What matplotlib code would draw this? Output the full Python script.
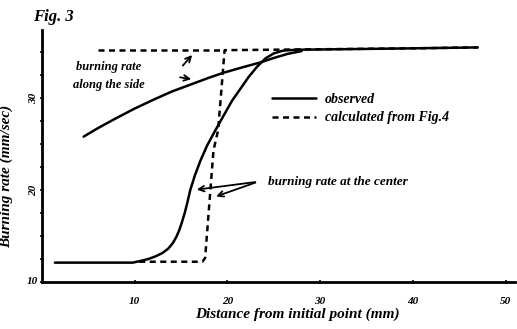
import matplotlib.pyplot as plt

# --- DATA ---
obs_center_x = [1.4, 9.8, 10.7, 11.5, 12.3, 13.0, 13.6, 14.1, 14.5, 14.8, 15.1, 15.4, 15.7, 16.0, 16.5,
                17.1, 17.8, 18.6, 19.6, 20.5, 21.4, 22.3, 23.2, 24.1, 25.0, 26.0, 27.5, 32, 40, 47]
obs_center_y = [12.1, 12.1, 12.3, 12.5, 12.8, 13.15, 13.6, 14.2, 14.9, 15.6, 16.5, 17.5, 18.7, 20.0, 21.6,
                23.2, 24.8, 26.3, 28.1, 29.7, 31.0, 32.3, 33.4, 34.3, 34.85, 35.15, 35.25, 35.3, 35.4, 35.5]

obs_side_x = [4.5, 6, 8, 10, 12, 14, 16.4, 18, 19.6, 21.5, 23.5, 25, 26.5, 28]
obs_side_y = [25.8, 26.7, 27.8, 28.85, 29.8, 30.7, 31.6, 32.2, 32.75, 33.3, 33.85, 34.35, 34.8, 35.1]

calc_center_x = [10.5, 17.3, 17.6, 18.5, 19.0, 19.7, 30, 40, 47]
calc_center_y = [12.2, 12.2, 12.6, 24.3, 26.5, 35.2, 35.3, 35.4, 35.5]

calc_side_x = [6.1, 19.7]
calc_side_y = [35.2, 35.2]

x_ticks = [10, 20, 30, 40, 50]
y_ticks = [10, 20, 30]

FONT = 'Liberation Serif'
hand = dict(family=FONT, style='italic', fontweight='bold')

fig = plt.figure(figsize=(5.17, 3.29), dpi=100)
ax = fig.add_axes([0.081, 0.143, 0.915, 0.766])

lw = 1.8
l_obs, = ax.plot(obs_center_x, obs_center_y, color='black', lw=lw,
                 solid_capstyle='round', solid_joinstyle='round')
ax.plot(obs_side_x, obs_side_y, color='black', lw=lw, solid_capstyle='round', solid_joinstyle='round')
l_calc, = ax.plot(calc_center_x, calc_center_y, color='black', lw=lw, linestyle=(0, (2.4, 1.8)))
ax.plot(calc_side_x, calc_side_y, color='black', lw=lw, linestyle=(0, (2.4, 1.8)))

ax.set_xlim(0, 51)
ax.set_ylim(10, 37.4)
ax.set_xticks(x_ticks)
ax.set_yticks(y_ticks)
ax.set_yticks([12.5, 15, 17.5, 22.5, 25, 27.5, 32.5, 35], minor=True)
ax.tick_params(axis='both', which='both', direction='inout', length=3, width=1.2)
ax.tick_params(axis='x', pad=9)
ax.tick_params(axis='y', pad=1)
for lab in ax.get_xticklabels():
    lab.set(fontsize=8, **hand)
for lab in ax.get_yticklabels():
    lab.set(fontsize=8, rotation=90, va='center', **hand)
ax.get_yticklabels()[0].set_rotation(0)

for side in ['top', 'right']:
    ax.spines[side].set_visible(False)
for side in ['left', 'bottom']:
    ax.spines[side].set_linewidth(2)

ax.set_xlabel('Distance from initial point (mm)', fontsize=11, **hand)
ax.xaxis.set_label_coords(0.54, -0.1)
ax.set_ylabel('Burning rate (mm/sec)', fontsize=11, **hand)
ax.yaxis.set_label_coords(-0.06, 0.42)

fig.text(0.064, 0.935, 'Fig. 3', fontsize=12, **hand)

# annotations
ax.text(3.7, 33.4, 'burning rate', fontsize=9, va='center', **hand)
ax.text(3.4, 31.4, 'along the side', fontsize=9, va='center', **hand)
arrow = dict(arrowstyle='->', color='black', lw=1.3)
ax.annotate('', xy=(16.4, 34.9), xytext=(15.0, 33.3), arrowprops=arrow)
ax.annotate('', xy=(16.4, 32.0), xytext=(14.6, 32.3), arrowprops=arrow)

ax.text(24.4, 20.9, 'burning rate at the center', fontsize=9.5, va='center', **hand)
ax.annotate('', xy=(16.4, 20.0), xytext=(23.3, 20.9), arrowprops=arrow)
ax.annotate('', xy=(18.5, 19.2), xytext=(23.3, 20.9), arrowprops=arrow)

ax.legend([l_obs, l_calc], ['observed', 'calculated from Fig.4'],
          loc='upper left', bbox_to_anchor=(0.46, 0.8), frameon=False,
          handlelength=3.2, handletextpad=0.6, labelspacing=0.4,
          prop=dict(family=FONT, style='italic', weight='bold', size=10))

fig.savefig('out.png', dpi=100)
